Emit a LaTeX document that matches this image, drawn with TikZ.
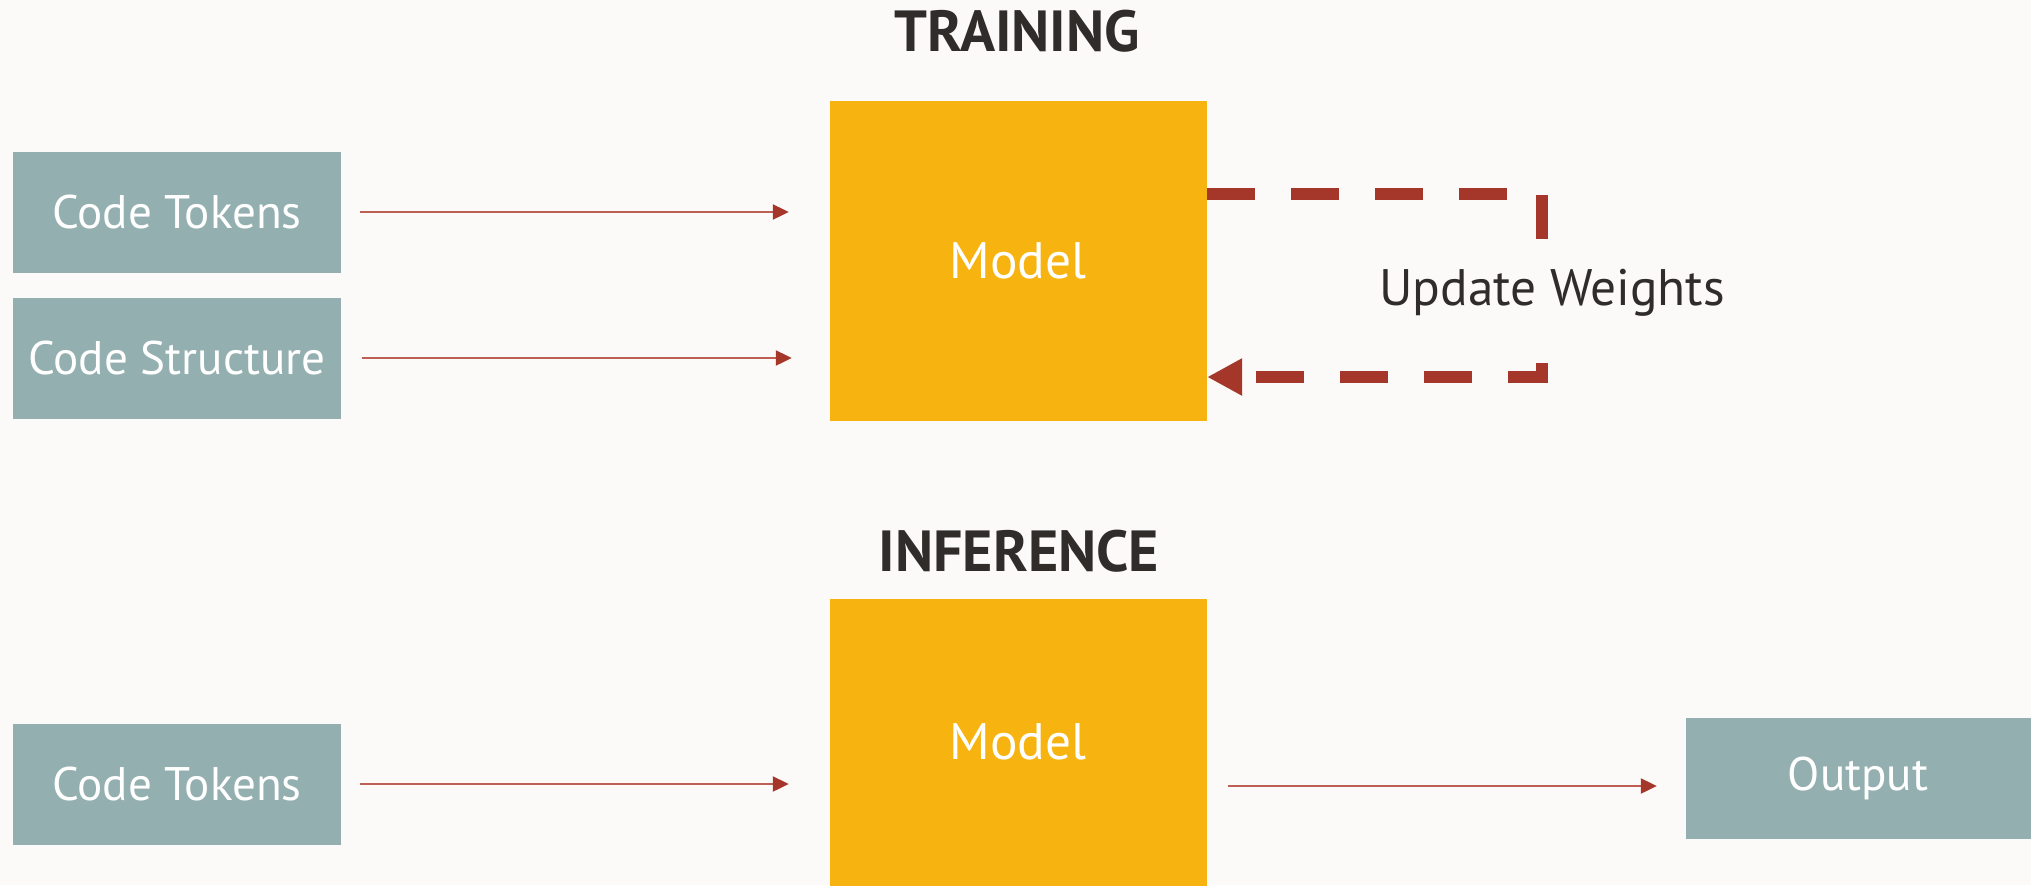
\documentclass[tikz,border=0pt]{standalone}
\usepackage{fontspec}
\setmainfont{PT Sans}
\usetikzlibrary{arrows.meta}
\definecolor{bgpaper}{RGB}{251,250,248}
\definecolor{boxteal}{RGB}{148,175,175}
\definecolor{boxgold}{RGB}{247,179,15}
\definecolor{linered}{RGB}{165,55,42}
\definecolor{thinred}{RGB}{190,95,85}
\definecolor{inkdark}{RGB}{47,44,42}
\begin{document}
\begin{tikzpicture}
      [x=0.1mm,y=-0.1mm,inner sep=0pt,
       input/.style={rectangle,fill=boxteal,text=white,minimum width=32.8mm,minimum height=12.1mm,
                     font=\fontsize{13.4}{16}\selectfont},
       model/.style={rectangle,fill=boxgold,text=white,minimum width=37.7mm,
                     font=\fontsize{14.6}{18}\selectfont},
       title/.style={text=inkdark,font=\fontsize{16.5}{20}\selectfont\bfseries},
       feed/.style={draw=thinred,line width=0.6pt,
                    -{Triangle[length=1.6mm,width=1.5mm,color=linered]}},
       update/.style={draw=linered,line width=1.2mm,dash pattern=on 4.8mm off 3.6mm,
                      -{Triangle[length=3.5mm,width=3.5mm]}}]
      \useasboundingbox[fill=bgpaper] (0,0) rectangle (2031,885);
      % training
      \node at (1017,31) (train) [title] {TRAINING};
      \node at (177,212) (tok1) [input] {Code Tokens};
      \node at (177,358) (struct) [input] {Code Structure};
      \node at (1018,261) (model1) [model,minimum height=32mm] {Model};
      \coordinate (loopa) at (1542,194);
      \coordinate (loopb) at (1542,377);
      \draw [feed,shorten <=1.8mm,shorten >=4mm] (tok1.east) -- (tok1.east -| model1.west);
      \draw [feed,shorten <=2mm,shorten >=3.7mm] (struct.east) -- (struct.east -| model1.west);
      \draw [update] (model1.east |- loopa) -- (loopa) -- (loopb) -- (model1.east |- loopb);
      \node at (1552,293) (upd) [fill=bgpaper,inner xsep=1mm,inner ysep=3mm,text=inkdark,
                                 font=\fontsize{14.6}{18}\selectfont] {Update Weights};
      % inference
      \node at (1019,551) (infer) [title] {INFERENCE};
      \node at (177,784) (tok2) [input] {Code Tokens};
      \node at (1018,598) (model2) [model,anchor=north,minimum height=28.7mm] {Model};
      \node at (1858,778) (out) [input,minimum width=34.5mm] {Output};
      \draw [feed,shorten <=1.8mm,shorten >=4mm] (tok2.east) -- (tok2.east -| model2.west);
      \draw [feed,shorten <=2.1mm,shorten >=2.8mm]
            ([yshift=-0.8mm]model2.east |- out.west) -- ([yshift=-0.8mm]out.west);
    \end{tikzpicture}
\end{document}
